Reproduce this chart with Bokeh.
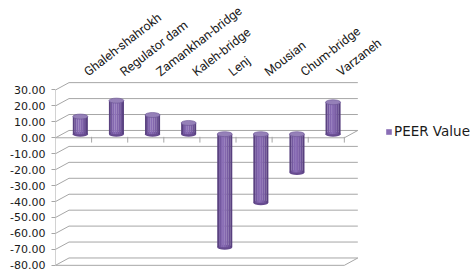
from bokeh.plotting import figure
from bokeh.models import Range1d, FixedTicker, PrintfTickFormatter, Legend, LegendItem, ColumnDataSource
from bokeh.core.properties import value
from bokeh.embed import file_html
from bokeh.resources import INLINE

# ---- data ----
categories = ["Ghaleh-shahrokh", "Regulator dam", "Zamankhan-bridge", "Kaleh-bridge",
              "Lenj", "Mousian", "Chum-bridge", "Varzaneh"]
peer_values = [11, 21, 12, 7, -71, -43, -24, 20]
y_ticks = [-80, -70, -60, -50, -40, -30, -20, -10, 0, 10, 20, 30]
series_name = "PEER Value"

# ---- 3D-look styling constants ----
DX = 0.374   # depth offset (category units)
DV = 4.6     # depth offset (value units)
BAR_W = 0.415
GRID = "#a6a6a6"
FONT = "DejaVu Sans"
strip_colors = ["#5a4280", "#7458a0", "#8468b0", "#8a6eb6", "#8366ad", "#7a5ea5", "#6c5196", "#58407f"]

n = len(categories)

p = figure(width=472, height=271, output_backend="svg", toolbar_location=None,
           x_range=Range1d(0, 11.55), y_range=Range1d(-83.88, 86.13),
           x_axis_location=None, y_axis_location="left",
           min_border_left=55, min_border_right=0, min_border_top=0, min_border_bottom=0)
p.grid.visible = False
p.outline_line_color = None
p.background_fill_color = "white"

ax = p.yaxis[0]
ax.ticker = FixedTicker(ticks=y_ticks)
ax.formatter = PrintfTickFormatter(format="%.2f")
ax.axis_line_color = None
ax.major_tick_out = 4
ax.major_tick_in = 0
ax.minor_tick_out = 0
ax.minor_tick_in = 0
ax.major_tick_line_color = GRID
ax.major_label_standoff = 6
ax.major_label_text_font_size = "11px"
ax.major_label_text_font = FONT
ax.major_label_text_color = "#1a1a1a"

# ---- walls / gridlines ----
x0s, y0s, x1s, y1s = [], [], [], []
for t in y_ticks:
    x0s.append(0); y0s.append(t); x1s.append(DX); y1s.append(t + DV)
    x0s.append(DX); y0s.append(t + DV); x1s.append(DX + n); y1s.append(t + DV)
for t in (y_ticks[0], 0):
    x0s.append(0); y0s.append(t); x1s.append(n); y1s.append(t)
    x0s.append(n); y0s.append(t); x1s.append(n + DX); y1s.append(t + DV)
# front vertical axis line
x0s.append(0); y0s.append(y_ticks[0]); x1s.append(0); y1s.append(y_ticks[-1])
# category ticks on zero line
for k in range(1, n + 1):
    x0s.append(k); y0s.append(0.6); x1s.append(k); y1s.append(-3.0)
p.segment(x0=x0s, y0=y0s, x1=x1s, y1=y1s, line_color=GRID, line_width=1)

# ---- cylinders ----
base = DV / 2
ms = len(strip_colors)
L, R, B, T, C = [], [], [], [], []
cap_x, lo_y, hi_y = [], [], []
for i, v in enumerate(peer_values):
    cx = i + 0.5 + DX / 2
    lo = min(v, 0) + base
    hi = max(v, 0) + base
    cap_x.append(cx); lo_y.append(lo); hi_y.append(hi)
    for k in range(ms):
        L.append(cx - BAR_W / 2 + k * BAR_W / ms)
        R.append(cx - BAR_W / 2 + (k + 1) * BAR_W / ms + 0.002)
        B.append(lo); T.append(hi); C.append(strip_colors[k])

p.ellipse(x=cap_x, y=lo_y, width=15, height=5, width_units="screen", height_units="screen",
          fill_color="#664b8f", line_color=None)
body = p.quad(source=ColumnDataSource(dict(left=L, right=R, bottom=B, top=T, color=C)),
              left="left", right="right", bottom="bottom", top="top",
              fill_color="color", line_color=None)
p.ellipse(x=cap_x, y=hi_y, width=15, height=5, width_units="screen", height_units="screen",
          fill_color="#9580b8", line_color="#6a5393", line_width=0.6)

# ---- category labels (rotated, above the chart) ----
p.text(x=[i + 0.83 for i in range(n)], y=[40.6] * n, text=categories,
       angle=0.66, text_align="left", text_baseline="alphabetic",
       text_font=value("Roboto"), text_font_size="12.5px", text_color="#1a1a1a")

# ---- legend ----
legend = Legend(items=[LegendItem(label=series_name, renderers=[body], index=3)],
                location=(330, 132), border_line_color=None, background_fill_alpha=0,
                padding=0, margin=0, glyph_width=7, glyph_height=7, label_standoff=2,
                label_text_font_size="13.5px", label_text_font=FONT, label_height=7,
                label_text_color="#1a1a1a", spacing=0)
p.add_layout(legend)

open("out.html", "w").write(file_html(p, INLINE))
